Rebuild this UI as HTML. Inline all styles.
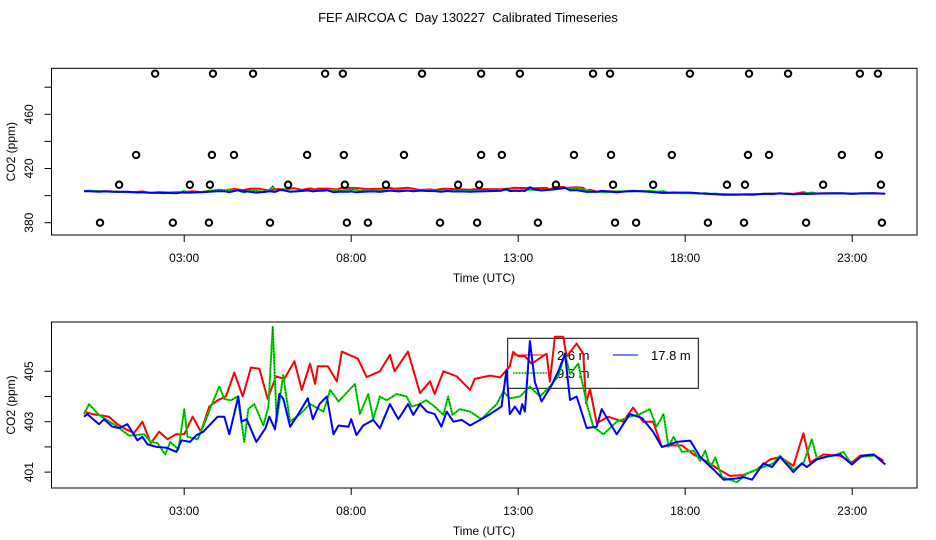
<!DOCTYPE html>
<html><head><meta charset="utf-8"><style>
html,body{margin:0;padding:0;background:#fff;}
svg{display:block;font-family:"Liberation Sans",sans-serif;}
</style></head><body>
<svg id="chart" width="936" height="540" viewBox="0 0 936 540" xmlns="http://www.w3.org/2000/svg">
<rect x="0" y="0" width="936" height="540" fill="#fff"/>
<text x="468" y="22" text-anchor="middle" font-size="13" xml:space="preserve">FEF AIRCOA C  Day 130227  Calibrated Timeseries</text>
<g id="top"></g>
<g id="bot"></g>
</svg>
<script>
// ---- data ----
const xTickLabels = ["03:00","08:00","13:00","18:00","23:00"];
const xTickHours = [3,8,13,18,23];
const topYTicks = [380,400,420,440,460,480];
const topYLabels = ["380","","420","","460",""];
const botYTicks = [401,402,403,404,405];
const botYLabels = ["401","","403","","405"];
const seriesNames = ["2.6 m","9.5 m","17.8 m"];

const redT = [0,0.25,0.5,0.75,1.0,1.25,1.5,1.75,2.0,2.25,2.5,2.75,3.0,3.25,3.5,3.75,4.0,4.25,4.5,4.75,5.0,5.25,5.5,5.75,6.0,6.3,6.52,6.77,6.92,7.0,7.3,7.57,7.72,8.2,8.46,8.86,9.16,9.3,9.7,10.06,10.36,10.5,10.76,11.16,11.56,11.7,12.16,12.46,12.75,12.85,13.0,13.2,13.4,13.85,13.95,14.1,14.35,14.45,14.75,14.95,15.03,15.15,15.35,15.69,16.14,16.44,16.74,17.04,17.3,17.6,17.9,18.25,18.64,19.04,19.34,19.74,20.14,20.54,20.84,21.24,21.54,21.74,22.14,22.64,22.99,23.24,23.64,23.94];
const redV = [403.4,403.3,403.25,403.2,402.9,402.7,402.55,403.0,402.15,402.6,402.3,402.5,402.5,403.2,402.6,403.6,403.85,404.0,404.95,404.0,405.15,405.1,403.9,404.8,404.7,405.4,404.26,405.3,404.5,405.2,405.2,404.6,405.78,405.5,404.77,405.0,405.65,405.0,405.78,404.13,404.6,404.1,405.0,404.8,404.26,404.7,404.83,404.76,405.2,405.77,405.6,405.6,405.3,405.7,404.59,406.37,406.37,405.58,406.1,405.7,403.73,404.3,402.94,403.2,403.0,403.56,403.0,403.0,402.0,402.06,402.06,401.7,401.42,401.08,400.85,400.88,401.1,401.5,401.6,401.25,402.54,401.38,401.7,401.65,401.38,401.65,401.7,401.45];

const greenT = [0,0.15,0.45,1.0,1.35,1.8,2.0,2.2,2.43,2.58,2.83,3.0,3.1,3.4,3.6,3.8,4.05,4.2,4.4,4.6,4.8,4.92,5.1,5.37,5.52,5.65,5.77,5.96,6.17,6.47,6.77,7.17,7.37,7.62,8.11,8.26,8.51,8.66,8.86,9.06,9.36,9.66,9.81,10.05,10.25,10.5,10.76,10.9,11.03,11.25,11.56,11.9,12.16,12.36,12.55,12.75,13.05,13.35,13.65,13.95,14.2,14.4,14.55,14.8,15.05,15.25,15.55,15.95,16.34,16.64,16.94,17.14,17.35,17.5,17.65,17.9,18.25,18.45,18.6,18.75,18.9,19.1,19.55,19.85,20.24,20.64,20.84,21.24,21.54,21.79,21.94,22.44,22.74,22.99,23.24,23.64];
const greenV = [403.3,403.7,403.27,402.8,402.45,402.5,402.2,402.15,401.7,402.2,401.9,403.5,402.4,402.3,402.9,403.6,404.4,403.9,403.85,404.0,402.2,403.5,403.7,402.85,403.6,406.77,403.0,404.85,403.0,403.3,403.7,403.4,404.26,403.8,404.5,403.3,404.1,403.1,404.0,403.85,404.1,404.0,403.6,403.7,403.85,403.6,403.27,404.0,403.27,403.5,403.4,403.1,403.45,403.7,404.2,403.93,404.0,404.4,404.0,404.4,404.8,405.7,404.9,405.3,403.73,402.8,402.5,403.0,403.2,403.3,403.5,402.8,403.3,402.0,402.4,401.8,401.85,401.45,401.85,401.2,401.58,400.8,400.6,400.95,401.15,401.35,401.65,401.1,401.35,402.3,401.55,401.65,401.8,401.3,401.6,401.65];

const blueT = [0,0.1,0.45,0.6,0.85,1.05,1.3,1.6,1.75,1.9,2.17,2.47,2.77,2.92,3.17,3.37,3.57,4.0,4.2,4.35,4.62,4.72,4.87,5.16,5.43,5.55,5.72,5.85,5.97,6.17,6.4,6.7,6.85,7.05,7.27,7.47,7.62,7.92,8.0,8.16,8.36,8.66,8.86,9.16,9.41,9.7,9.86,10.06,10.26,10.5,10.7,10.86,11.06,11.31,11.56,11.86,12.16,12.5,12.65,12.75,12.9,13.05,13.12,13.2,13.35,13.5,13.7,14.0,14.2,14.4,14.55,14.75,15.05,15.35,15.5,15.95,16.34,16.7,17.04,17.3,17.75,18.15,18.45,18.85,19.15,19.55,19.74,20.0,20.34,20.6,20.84,21.24,21.49,21.64,21.94,22.34,22.64,22.99,23.29,23.64,23.99];
const blueV = [403.2,403.3,402.9,403.1,402.8,402.75,402.9,402.26,402.4,402.1,402.0,401.97,401.8,402.26,402.2,402.47,402.6,403.2,403.2,402.5,404.0,403.0,403.1,402.2,402.74,403.2,402.7,404.1,403.9,402.8,403.27,403.93,403.1,403.7,404.0,402.5,402.85,402.8,403.1,402.47,402.85,403.07,402.74,403.7,403.1,403.7,403.27,403.7,403.4,403.3,402.8,403.4,403.0,403.07,402.85,403.07,403.3,403.6,405.05,403.3,403.6,403.3,403.7,403.4,406.2,404.57,403.8,404.45,405.0,405.7,403.86,404.0,402.75,402.8,403.5,402.5,403.3,403.15,402.6,402.0,402.2,402.25,401.6,401.1,400.7,400.75,400.8,400.7,401.35,401.2,401.6,401.0,401.35,401.2,401.5,401.65,401.7,401.3,401.65,401.7,401.3];

const flagHighT = [2.13,3.86,5.06,7.22,7.75,10.12,11.89,13.05,15.24,15.75,18.14,19.91,21.08,23.23,23.77];
const flagHighV = [490,490,490,490,490,490,490,490,490,490,490,490,490,490,490];
const flag430T = [1.56,3.83,4.49,6.68,7.78,9.58,11.89,12.51,14.67,15.78,17.6,19.88,20.51,22.69,23.8];
const flag430V = [430,430,430,430,430,430,430,430,430,430,430,430,430,430,430];
const flag408T = [1.05,3.17,3.77,6.11,7.81,9.04,11.2,11.83,14.13,15.84,17.04,19.25,19.79,22.13,23.86];
const flag408V = [408,408,408,408,408,408,408,408,408,408,408,408,408,408,408];
const flag380T = [0.48,2.66,3.74,5.57,7.87,8.5,10.66,11.77,13.59,15.9,16.53,18.68,19.76,21.62,23.89];
const flag380V = [380,380,380,380,380,380,380,380,380,380,380,380,380,380,380];

// ---- layout ----
const NS = "http://www.w3.org/2000/svg";
const X0 = 51.5, X1 = 917;
function xs(h){ return 84 + h * 33.4; }
function yTop(v){ return 222.7 - (v - 380) * 1.355; }
function yBot(v){ return 421.7 - (v - 403) * 25.2; }

function mk(parent, tag, attrs){
  const e = document.createElementNS(NS, tag);
  for (const k in attrs) e.setAttribute(k, attrs[k]);
  parent.appendChild(e);
  return e;
}

function drawPanel(g, top, bottom, yf, yTicks, yLabels, xlabY, panel){
  const frame = mk(g, "rect", {x:X0, y:top, width:X1-X0, height:bottom-top, fill:"none", stroke:"#000", "stroke-width":1});
  
  
  xTickHours.forEach((h,i)=>{
    const t = mk(g, "line", {x1:xs(h), x2:xs(h), y1:bottom, y2:bottom+7, stroke:"#000"});
    
    
    const l = mk(g, "text", {x:xs(h), y:bottom+27, "text-anchor":"middle", "font-size":12});
    l.textContent = xTickLabels[i];
    
    
  });
  yTicks.forEach((v,i)=>{
    const y = yf(v);
    const t = mk(g, "line", {x1:X0-7, x2:X0, y1:y, y2:y, stroke:"#000"});
    
    
    if (yLabels[i]) {
      const l = mk(g, "text", {x:0, y:0, "text-anchor":"middle", "font-size":12, transform:`translate(33,${y}) rotate(-90)`});
      l.textContent = yLabels[i];
      
      
    }
  });
  const xl = mk(g, "text", {x:484, y:xlabY, "text-anchor":"middle", "font-size":12});
  xl.textContent = "Time (UTC)";
  
  
  const yl = mk(g, "text", {x:0, y:0, "text-anchor":"middle", "font-size":12, transform:`translate(15,${(top+bottom)/2}) rotate(-90)`});
  yl.textContent = "CO2 (ppm)";
  
  
}

function pathD(T, V, yf){
  return T.map((t,i)=>(i?"L":"M")+xs(t).toFixed(1)+","+yf(V[i]).toFixed(1)).join(" ");
}

function drawSeries(g, yf, panel){
  const r = mk(g, "path", {d:pathD(redT, redV, yf), fill:"none", stroke:"#ff0000", "stroke-width":2, "stroke-linejoin":"round"});
  
  
  const gr = mk(g, "path", {d:pathD(greenT, greenV, yf), fill:"none", stroke:"#00dd00", "stroke-width":2, "stroke-linejoin":"round"});
  
  
  const gd = mk(g, "path", {d:pathD(greenT, greenV, yf), fill:"none", stroke:"#000", "stroke-width":0.6, "stroke-dasharray":"1 2"});
  
  
  const b = mk(g, "path", {d:pathD(blueT, blueV, yf), fill:"none", stroke:"#0000ff", "stroke-width":2, "stroke-linejoin":"round"});
  
  
}

// top panel
const gt = document.getElementById("top");
drawPanel(gt, 68.3, 235, yTop, topYTicks, topYLabels, 282, "top");
drawSeries(gt, yTop, "top");
[[flagHighT,flagHighV],[flag430T,flag430V],[flag408T,flag408V],[flag380T,flag380V]].forEach(([T,V])=>{
  T.forEach((t,i)=>{
    const c = mk(gt, "circle", {cx:xs(t), cy:yTop(V[i]), r:3.2, fill:"none", stroke:"#000", "stroke-width":2});
    
    
  });
});

// bottom panel
const gb = document.getElementById("bot");
drawPanel(gb, 322, 488, yBot, botYTicks, botYLabels, 535, "bottom");

// legend (drawn before series so lines overlay it)
const lg = mk(gb, "g", {});


const lb = mk(lg, "rect", {x:507.7, y:338.3, width:190.6, height:50, fill:"none", stroke:"#000"});


const legItems = [
  {x1:513,x2:547,y:355,tx:557,col:"#ff0000",dash:null},
  {x1:513,x2:547,y:373,tx:557,col:"#00dd00",dash:"1 2"},
  {x1:613,x2:638,y:355,tx:651,col:"#0000ff",dash:null}
];
legItems.forEach((it,i)=>{
  const ln = mk(lg, "line", {x1:it.x1, x2:it.x2, y1:it.y, y2:it.y, stroke:it.col, "stroke-width":1});
  
  
  if (it.dash) {
    const d = mk(lg, "line", {x1:it.x1, x2:it.x2, y1:it.y, y2:it.y, stroke:"#000", "stroke-width":1, "stroke-dasharray":it.dash});
    
    
  }
  const tx = mk(lg, "text", {x:it.tx, y:it.y+5, "font-size":13});
  tx.textContent = seriesNames[i];
  
  
});
drawSeries(gb, yBot, "bottom");
</script>
</body></html>
